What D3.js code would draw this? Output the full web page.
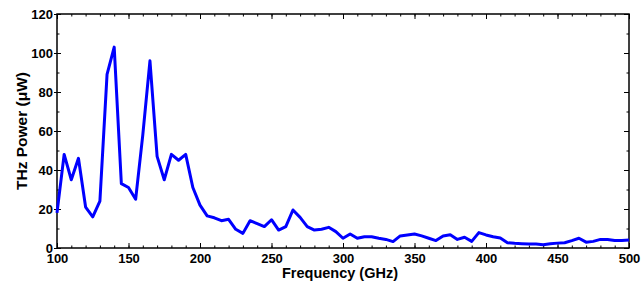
<!DOCTYPE html>
<html>
<head>
<meta charset="utf-8">
<script src="https://cdn.jsdelivr.net/npm/d3@7"></script>
<style>
  body { margin: 0; background: #fff; }
  text { font-family: "Liberation Sans", Arial, sans-serif; font-weight: bold; }
  .domain { display: none; }
</style>
</head>
<body>
<script>
const freq = [100,105,110,115,120,125,130,135,140,145,150,155,160,165,170,175,180,185,190,195,
              200,205,210,215,220,225,230,235,240,245,250,255,260,265,270,275,280,285,290,295,
              300,305,310,315,320,325,330,335,340,345,350,355,360,365,370,375,380,385,390,395,
              400,405,410,415,420,425,430,435,440,445,450,455,460,465,470,475,480,485,490,495,500];
const power = [18,48,35,46,21,16,24,89,103,33,31,25,58,96,47,35,48,45,48,31,
               22,16.5,15.5,14,14.7,9.6,7.5,14,12.5,11,14.5,9.2,11,19.5,15.7,11,9.2,9.6,10.6,8.4,
               5,7.2,5,5.8,5.8,5,4.4,3.3,6.2,6.7,7.2,6.2,5,3.8,6.2,6.8,4.4,5.5,3.4,7.9,
               6.7,5.8,5.1,2.7,2.4,2.2,2,2,1.7,2.2,2.5,2.7,3.8,5,3,3.4,4.4,4.4,3.8,3.9,4.1];
const xTicks = [100,150,200,250,300,350,400,450,500];
const yTicks = [0,20,40,60,80,100,120];
const xMinor = d3.range(100, 501, 10);
const yMinor = d3.range(0, 121, 10);

const w = 641, h = 287,
      pL = 57, pR = 629, pT = 14, pB = 248;

const svg = d3.select("body").append("svg")
  .attr("width", w).attr("height", h);

const x = d3.scaleLinear().domain([100, 500]).range([pL, pR]);
const y = d3.scaleLinear().domain([0, 120]).range([pB, pT]);

// minor ticks (inward)
svg.append("g").attr("transform", "translate(0," + pB + ")")
  .call(d3.axisTop(x).tickValues(xMinor).tickSize(2.5).tickFormat(""));
svg.append("g").attr("transform", "translate(0," + pT + ")")
  .call(d3.axisBottom(x).tickValues(xMinor).tickSize(2.5).tickFormat(""));
svg.append("g").attr("transform", "translate(" + pL + ",0)")
  .call(d3.axisRight(y).tickValues(yMinor).tickSize(2.5).tickFormat(""));
svg.append("g").attr("transform", "translate(" + pR + ",0)")
  .call(d3.axisLeft(y).tickValues(yMinor).tickSize(2.5).tickFormat(""));

// major ticks (inward)
svg.append("g").attr("transform", "translate(0," + pB + ")")
  .call(d3.axisTop(x).tickValues(xTicks).tickSize(5).tickFormat(""));
svg.append("g").attr("transform", "translate(0," + pT + ")")
  .call(d3.axisBottom(x).tickValues(xTicks).tickSize(5).tickFormat(""));
svg.append("g").attr("transform", "translate(" + pR + ",0)")
  .call(d3.axisLeft(y).tickValues(yTicks).tickSize(5).tickFormat(""));
svg.append("g").attr("transform", "translate(" + (pL + 4) + ",0)")
  .call(d3.axisLeft(y).tickValues(yTicks).tickSize(7).tickFormat(""));

// labelled axes
svg.append("g").attr("transform", "translate(0," + pB + ")")
  .call(d3.axisBottom(x).tickValues(xTicks).tickSize(0).tickPadding(6));
svg.append("g").attr("transform", "translate(" + pL + ",0)")
  .call(d3.axisLeft(y).tickValues(yTicks).tickSize(0).tickPadding(4));

svg.selectAll(".tick text").attr("font-size", 13).attr("fill", "#000")
  .attr("font-family", "Liberation Sans, Arial, sans-serif").attr("font-weight", "bold");
svg.selectAll(".tick line").attr("stroke", "#000").attr("stroke-width", 1);

// frame
svg.append("rect")
  .attr("x", pL).attr("y", pT)
  .attr("width", pR - pL).attr("height", pB - pT)
  .attr("fill", "none").attr("stroke", "#000").attr("stroke-width", 1.5);

// data line
const line = d3.line().x((d, i) => x(freq[i])).y(d => y(d));
svg.append("path").datum(power)
  .attr("d", line)
  .attr("fill", "none").attr("stroke", "#0000ff")
  .attr("stroke-width", 3).attr("stroke-linejoin", "round");

// titles
svg.append("text")
  .attr("x", 340).attr("y", 278)
  .attr("text-anchor", "middle").attr("font-size", 14.5)
  .text("Frequency (GHz)");

svg.append("text")
  .attr("transform", "translate(27,131) rotate(-90)")
  .attr("text-anchor", "middle").attr("font-size", 15.5)
  .text("THz Power (\u03bcW)");
</script>
</body>
</html>
